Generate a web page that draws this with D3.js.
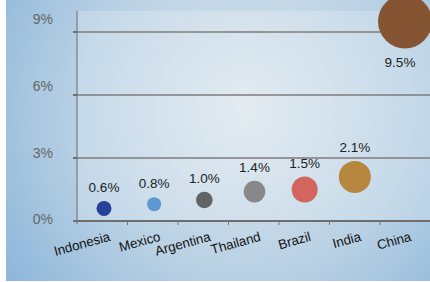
<!DOCTYPE html>
<html><head><meta charset="utf-8">
<script src="https://cdn.jsdelivr.net/npm/d3@7"></script>
<style>html,body{margin:0;padding:0;background:#fff;}svg{display:block;}</style>
</head><body>
<svg id="c" width="430" height="282"></svg>
<script>
const categories = ["Indonesia","Mexico","Argentina","Thailand","Brazil","India","China"];
const values = [0.6, 0.8, 1.0, 1.4, 1.5, 2.1, 9.5];
const bubbleSizes = [56, 49, 69, 117, 169, 256, 729];
const colors = ["#26419a","#5e98cf","#636363","#888888","#d3655f","#b7873f","#845433"];
const yTicks = [0, 3, 6, 9];

(function(){
const svg = d3.select("#c");
const defs = svg.append("defs");
const rg = defs.append("radialGradient").attr("id","bg").attr("gradientUnits","userSpaceOnUse")
  .attr("cx",245).attr("cy",110).attr("r",300);
rg.append("stop").attr("offset","0").attr("stop-color","#dde7ee");
rg.append("stop").attr("offset","0.55").attr("stop-color","#b9d1e4");
rg.append("stop").attr("offset","1").attr("stop-color","#8ab5da");

svg.append("rect").attr("x",6).attr("y",0).attr("width",424).attr("height",281).attr("fill","url(#bg)");

const mLeft = 77, mRight = 430.5, mTop = 11, mBottom = 221;
svg.append("rect").attr("x",mLeft).attr("y",mTop).attr("width",430-mLeft).attr("height",mBottom-mTop)
  .attr("fill","#ffffff").attr("fill-opacity",0.2);

const x = d3.scaleBand().domain(categories).range([mLeft, mRight]).padding(0);
const xp = d3.scalePoint().domain(categories).range([104, 405]);
const y = d3.scaleLinear().domain([0, 10]).range([mBottom, mTop]);
const yLab = d3.scaleLinear().domain([0, 9]).range([219.3, 19.5]);
const r = d3.scaleSqrt().domain([0, 729]).range([0, 27]);
const font = "'Liberation Sans', Arial, sans-serif";

// gridlines
svg.append("g").selectAll("line").data(yTicks.filter(d=>d>0)).join("line")
  .attr("x1", mLeft).attr("x2", 430).attr("y1", d=>y(d)).attr("y2", d=>y(d))
  .attr("stroke","#7d7d7d").attr("stroke-width",1.5);
// y tick marks
svg.append("g").selectAll("line").data(yTicks).join("line")
  .attr("x1", mLeft-4).attr("x2", mLeft).attr("y1", d=>y(d)).attr("y2", d=>y(d))
  .attr("stroke","#555").attr("stroke-width",1.5);
// y axis line
svg.append("line").attr("x1",mLeft).attr("x2",mLeft).attr("y1",mTop).attr("y2",mBottom+3)
  .attr("stroke","#6a6a6a").attr("stroke-width",1);
// y labels
const yAxis = svg.append("g").attr("transform","translate(53,0)")
  .call(d3.axisLeft(yLab).tickValues(yTicks).tickFormat(d=>d+"%").tickSize(0).tickPadding(0));
yAxis.select(".domain").remove();
yAxis.selectAll("text").attr("font-family",font).attr("font-size",14).attr("fill","#666");

// x ticks at band boundaries
svg.append("g").selectAll("line").data(categories.slice(1)).join("line")
  .attr("x1", d=>x(d)).attr("x2", d=>x(d)).attr("y1", mBottom).attr("y2", mBottom+4)
  .attr("stroke","#777").attr("stroke-width",1);
// x axis line
svg.append("line").attr("x1",mLeft).attr("x2",430).attr("y1",mBottom).attr("y2",mBottom)
  .attr("stroke","#6e6e6e").attr("stroke-width",2);

// category labels
svg.append("g").selectAll("text").data(categories).join("text")
  .attr("transform", d=>`translate(${xp(d)+7},240.5) rotate(-15.5)`)
  .attr("text-anchor","end")
  .attr("font-family",font).attr("font-size",13.3).attr("fill","#111")
  .text(d=>d);

// bubbles
const data = categories.map((c,i)=>({c, v: values[i], s: bubbleSizes[i], col: colors[i]}));
svg.append("g").selectAll("circle").data(data).join("circle")
  .attr("cx", d=>xp(d.c)).attr("cy", d=>y(d.v)).attr("r", d=>r(d.s))
  .attr("fill", d=>d.col);

// value labels
svg.append("g").selectAll("text").data(data).join("text")
  .attr("x", d=>xp(d.c) - (d.v>9?5:0))
  .attr("y", d=> d.v>9 ? y(d.v)+r(d.s)+18.5 : y(d.v)-r(d.s)-9)
  .attr("text-anchor","middle")
  .attr("font-family",font).attr("font-size",13.5).attr("fill","#222")
  .text(d=>d.v.toFixed(1)+"%");
})();
</script>
</body></html>
